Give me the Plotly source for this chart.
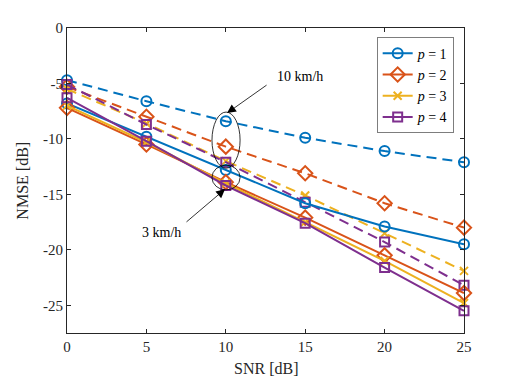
import plotly.graph_objects as go

# --- data ---
snr = [0, 5, 10, 15, 20, 25]
labels = ["<i>p</i> = 1", "<i>p</i> = 2", "<i>p</i> = 3", "<i>p</i> = 4"]

# 3 km/h (solid)
nmse_3kmh_p1 = [-6.8, -9.8, -12.8, -15.8, -17.9, -19.5]
nmse_3kmh_p2 = [-7.2, -10.5, -13.9, -17.1, -20.5, -23.9]
nmse_3kmh_p3 = [-7.0, -10.3, -14.0, -17.5, -21.0, -24.8]
nmse_3kmh_p4 = [-6.3, -10.2, -14.2, -17.6, -21.6, -25.5]

# 10 km/h (dashed)
nmse_10kmh_p1 = [-4.7, -6.6, -8.4, -9.9, -11.1, -12.1]
nmse_10kmh_p2 = [-5.3, -8.0, -10.7, -13.1, -15.8, -18.0]
nmse_10kmh_p3 = [-5.5, -8.6, -12.0, -15.1, -18.5, -21.9]
nmse_10kmh_p4 = [-5.1, -8.7, -12.1, -15.7, -19.3, -23.2]

yticks = [0, -5, -10, -15, -20, -25]
xticks = [0, 5, 10, 15, 20, 25]

colours = ["#0072BD", "#D95319", "#EDB120", "#7E2F8E"]
symbols = ["circle-open", "diamond-open", "x-thin-open", "square-open"]
msizes = [10, 11, 8, 9]

solid = [nmse_3kmh_p1, nmse_3kmh_p2, nmse_3kmh_p3, nmse_3kmh_p4]
dashed = [nmse_10kmh_p1, nmse_10kmh_p2, nmse_10kmh_p3, nmse_10kmh_p4]

font = "Liberation Serif"
fig = go.Figure()

# dashed first (drawn underneath), no legend
for i in range(4):
    fig.add_trace(go.Scatter(
        x=snr, y=dashed[i], mode="lines+markers",
        line=dict(color=colours[i], width=2, dash="10px,6px"),
        marker=dict(symbol=symbols[i], size=msizes[i], color=colours[i],
                    line=dict(width=2, color=colours[i])),
        showlegend=False, cliponaxis=False))

for i in range(4):
    fig.add_trace(go.Scatter(
        x=snr, y=solid[i], mode="lines+markers", name=labels[i],
        line=dict(color=colours[i], width=2),
        marker=dict(symbol=symbols[i], size=msizes[i], color=colours[i],
                    line=dict(width=2, color=colours[i])),
        cliponaxis=False))

# ellipses around the SNR=10 markers
fig.add_shape(type="circle", xref="x", yref="y", x0=9.13, x1=10.9,
              y0=-12.64, y1=-7.58, line=dict(color="black", width=0.8))
fig.add_shape(type="circle", xref="x", yref="y", x0=9.13, x1=10.9,
              y0=-14.6, y1=-12.36, line=dict(color="black", width=0.8))

# arrows + labels
fig.add_annotation(x=10.08, y=-7.67, ax=41, ay=-29, text="", showarrow=True,
                   arrowhead=2, arrowsize=2.2, arrowwidth=0.8, arrowcolor="black")
fig.add_annotation(x=9.95, y=-14.53, ax=-40, ay=34, text="", showarrow=True,
                   arrowhead=2, arrowsize=2.2, arrowwidth=0.8, arrowcolor="black")
fig.add_annotation(x=14.67, y=-4.33, text="10 km/h", showarrow=False,
                   font=dict(family=font, size=14, color="black"))
fig.add_annotation(x=5.98, y=-18.4, text="3 km/h", showarrow=False,
                   font=dict(family=font, size=14, color="black"))

# axis titles as paper annotations so the plot area stays put
fig.add_annotation(xref="paper", yref="paper", x=0.5, y=-0.115, yanchor="middle",
                   text="SNR [dB]", showarrow=False,
                   font=dict(family=font, size=16, color="#262626"))
fig.add_annotation(xref="paper", yref="paper", x=-0.113, y=0.5, xanchor="center",
                   text="NMSE [dB]", textangle=-90, showarrow=False,
                   font=dict(family=font, size=16, color="#262626"))

axis_common = dict(showline=True, linecolor="#262626", linewidth=1, mirror="ticks",
                   ticks="inside", ticklen=4, tickcolor="#262626", showgrid=False,
                   zeroline=False, automargin=False,
                   tickfont=dict(family=font, size=15, color="#262626"))

fig.update_xaxes(range=[0, 25], tickvals=xticks, ticktext=[str(v) for v in xticks],
                 **axis_common)
fig.update_yaxes(range=[-27.5, 0], tickvals=yticks,
                 ticktext=[str(v) for v in yticks],
                 **axis_common)

# page body has an 8px margin, so the figure is a bit smaller than the window
fig.update_layout(
    width=504, height=376,
    margin=dict(l=59, r=48, t=20, b=51),
    plot_bgcolor="white", paper_bgcolor="white",
    legend=dict(x=0.975, y=0.97, xanchor="right", yanchor="top",
                bordercolor="#262626", borderwidth=0.6, bgcolor="white",
                font=dict(family=font, size=14, color="black"),
                tracegroupgap=0, itemwidth=30),
)

fig.write_html("out.html")
